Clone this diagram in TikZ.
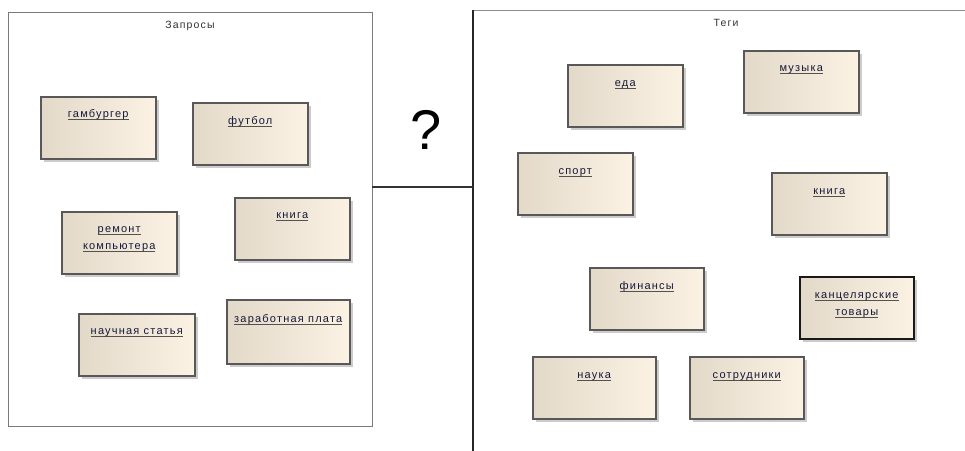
\documentclass[tikz,border=0pt]{standalone}
\usepackage{fontspec}
\setmainfont{Liberation Sans}
\newfontfamily\lblfont[LetterSpace=11]{Liberation Sans}
\usetikzlibrary{shadows}
\definecolor{boxleft}{HTML}{E3D9C9}
\definecolor{boxright}{HTML}{FBF2E4}
\definecolor{boxline}{HTML}{585858}
\definecolor{txt}{HTML}{15193A}
\definecolor{ulcol}{HTML}{55524C}
\definecolor{framecol}{HTML}{7A7A7A}
\newcommand{\uln}[1]{\setbox0\hbox{#1}\rlap{\textcolor{ulcol}{\rule[-2.4pt]{\wd0}{1pt}}}\box0}
\begin{document}
\begin{tikzpicture}[x=1pt,y=-1pt,
  qbox/.style={draw=boxline, line width=1.5pt, left color=boxleft, right color=boxright,
    drop shadow={shadow xshift=3pt, shadow yshift=-3pt, fill=black!20, opacity=1},
    anchor=north west, inner sep=0pt, minimum width=115pt, minimum height=62pt},
  qlbl/.style={font=\lblfont\fontsize{11}{17}\selectfont, text=txt, align=center, inner sep=0pt},
  ttl/.style={font=\lblfont\fontsize{10.5}{12}\selectfont, text=black!80, inner sep=0pt}]
\useasboundingbox (0,0) rectangle (965,450);
\fill[white] (0,0) rectangle (965,450);
% frames
\node[draw=framecol, line width=1.4pt, anchor=north west, minimum width=364pt, minimum height=414pt, inner sep=0pt] (qframe) at (8,12) {};
\node[ttl] (qtitle) at (190,26) {Запросы};
\begin{scope}
\clip (0,0) rectangle (965,450);
\node[draw=black!45, line width=1.2pt, anchor=north west, minimum width=600pt, minimum height=500pt, inner sep=0pt] (tframe) at (473,10) {};
\draw[black!85, line width=1.4pt] (tframe.north west) -- (tframe.south west);
\end{scope}
\node[ttl] (ttitle) at (726,23) {Теги};
% connector
\coordinate (c1) at (372,187);
\draw[black!80, line width=1.6pt] (c1) -- (c1 -| tframe.west);
\node[inner sep=0pt, font=\fontsize{56}{56}\selectfont] (qm) at (426,130) {?};
% left boxes
\node[qbox] (b1) at (40,96) {};
\node[qlbl] (b1t) at ([yshift=-19pt]b1.north) {\uln{гамбургер}};
\node[qbox] (b2) at (192,102) {};
\node[qlbl] (b2t) at ([yshift=-20pt]b2.north) {\uln{футбол}};
\node[qbox] (b3) at (61,211) {};
\node[qlbl] (b3t) at ([yshift=-28pt]b3.north) {\uln{ремонт}\\\uln{компьютера}};
\node[qbox] (b4) at (234,197) {};
\node[qlbl] (b4t) at ([yshift=-20pt]b4.north) {\uln{книга}};
\node[qbox, minimum width=116pt] (b5) at (78,313) {};
\node[qlbl] (b5t) at ([yshift=-20pt]b5.north) {\uln{научная статья}};
\node[qbox, minimum width=123pt, minimum height=64pt] (b6) at (226,299) {};
\node[qlbl] (b6t) at ([yshift=-21pt]b6.north) {\uln{заработная плата}};
% right boxes
\node[qbox] (t1) at (567,64) {};
\node[qlbl] (t1t) at ([yshift=-21pt]t1.north) {\uln{еда}};
\node[qbox] (t2) at (743,50) {};
\node[qlbl] (t2t) at ([yshift=-20pt]t2.north) {\uln{музыка}};
\node[qbox] (t3) at (517,152) {};
\node[qlbl] (t3t) at ([yshift=-21pt]t3.north) {\uln{спорт}};
\node[qbox] (t4) at (771,172) {};
\node[qlbl] (t4t) at ([yshift=-21pt]t4.north) {\uln{книга}};
\node[qbox, minimum width=114pt] (t5) at (589,267) {};
\node[qlbl] (t5t) at ([yshift=-20pt]t5.north) {\uln{финансы}};
\node[qbox, draw=black!90, minimum width=114pt] (t6) at (799,276) {};
\node[qlbl] (t6t) at ([yshift=-29pt]t6.north) {\uln{канцелярские}\\\uln{товары}};
\node[qbox, minimum width=123pt] (t7) at (532,356) {};
\node[qlbl] (t7t) at ([yshift=-21pt]t7.north) {\uln{наука}};
\node[qbox, minimum width=114pt] (t8) at (689,356) {};
\node[qlbl] (t8t) at ([yshift=-21pt]t8.north) {\uln{сотрудники}};
\end{tikzpicture}
\end{document}
